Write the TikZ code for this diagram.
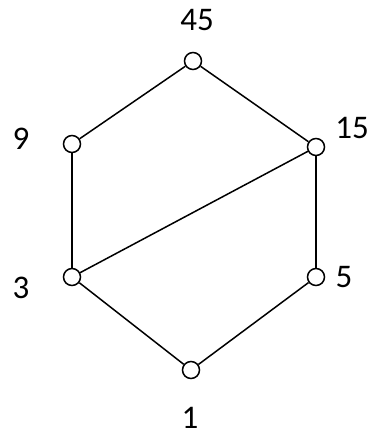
\documentclass[tikz,border=0pt]{standalone}
\usepackage{fontspec}
\setmainfont{Carlito}
\usepackage{tikz}
\usetikzlibrary{positioning}

\tikzset{
    vtx/.style={circle, draw, fill=white, inner sep=0pt, minimum size=17pt, line width=1.5pt},
    lbl/.style={font=\fontsize{33}{40}\selectfont, inner sep=0pt}
}

\begin{document}
\begin{tikzpicture}[x=1pt, y=-1pt, line width=1.5pt]
\useasboundingbox (0,0) rectangle (368,437);
    % vertices
    \node[vtx] (n45) at (193,61) {};
    \node[vtx] (n9) at (72,144) {};
    \node[vtx] (n15) at (316,147) {};
    \node[vtx] (n3) at (72,277) {};
    \node[vtx] (n5) at (316,277) {};
    \node[vtx] (n1) at (191,370) {};
    % labels
    \node[lbl] (t45) at (197,20) {45};
    \node[lbl] (t9) at (21,139) {9};
    \node[lbl] (t15) at (352,128) {15};
    \node[lbl] (t3) at (21,288) {3};
    \node[lbl] (t5) at (344,277) {5};
    \node[lbl] (t1) at (190,418) {1};
    % edges
    \draw (n45) -- (n9);
    \draw (n45) -- (n15);
    \draw (n9) -- (n3);
    \draw (n15) -- (n3);
    \draw (n15) -- (n5);
    \draw (n3) -- (n1);
    \draw (n5) -- (n1);
\end{tikzpicture}
\end{document}
